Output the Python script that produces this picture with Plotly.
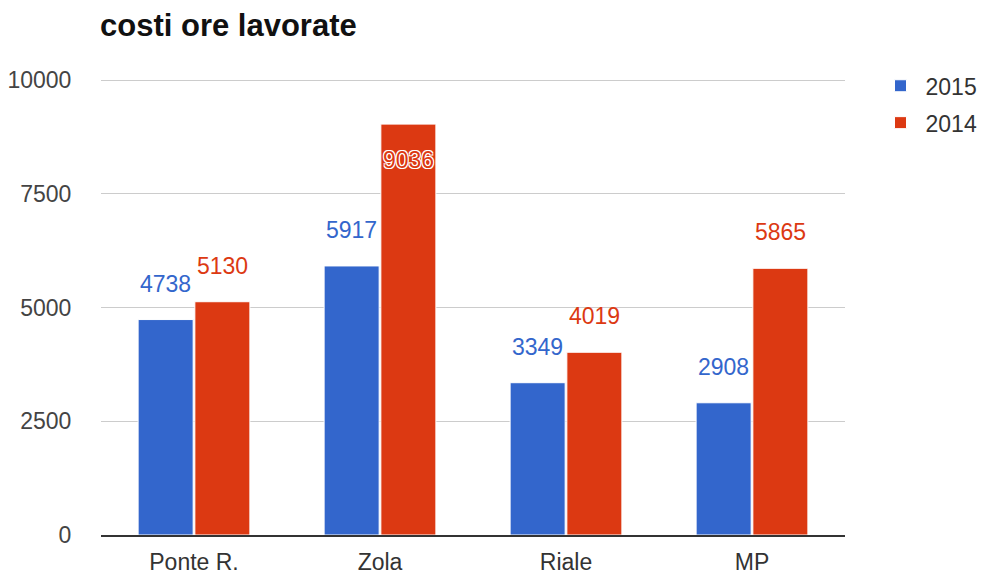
import plotly.graph_objects as go

categories = ["Ponte R.", "Zola", "Riale", "MP"]
series_names = ["2015", "2014"]
values_2015 = [4738, 5917, 3349, 2908]
values_2014 = [5130, 9036, 4019, 5865]
y_ticks = [0, 2500, 5000, 7500, 10000]

colors = {"2015": "#3366cc", "2014": "#dc3912"}
FONT = "Liberation Sans, Arial, sans-serif"
YMAX = 10000

fig = go.Figure()
for name, vals in zip(series_names, [values_2015, values_2014]):
    fig.add_trace(go.Bar(
        name=name, x=categories, y=vals, legendgroup=name,
        marker=dict(color=colors[name], line=dict(color="white", width=1)),
        offsetgroup=name,
    ))

# value labels as annotations
n = len(series_names)
for si, (name, vals) in enumerate(zip(series_names, [values_2015, values_2014])):
    for ci, v in enumerate(vals):
        inside = v > 0.85 * YMAX
        xoff = (si - (n - 1) / 2) * 0.305
        fig.add_annotation(
            x=ci + xoff, y=v, xref="x", yref="y",
            text=str(v), showarrow=False,
            yanchor="middle",
            yshift=-36 if inside else 36,
            font=dict(family=FONT, size=23, color=colors[name],
                      shadow="-1px -1px 0 white, 1px -1px 0 white, -1px 1px 0 white, 1px 1px 0 white" if inside else "none"),
        )

fig.update_layout(
    width=989, height=578,
    margin=dict(l=93, r=152, t=70, b=51, autoexpand=False),
    paper_bgcolor="white", plot_bgcolor="white",
    font=dict(family=FONT, size=23, color="#444"),
    title=dict(text="<b>costi ore lavorate</b>", x=92 / 989, xanchor="left",
               xref="container", y=1 - 17 / 578, yanchor="middle", yref="container",
               font=dict(family=FONT, size=31, color="#111")),
    bargap=0.39, bargroupgap=0.03,
    barmode="group",
    showlegend=True,
    legend=dict(x=1.041, y=1.03, xanchor="left", yanchor="top",
                font=dict(family=FONT, size=23, color="#333"),
                tracegroupgap=4, itemwidth=40),
)
fig.update_yaxes(range=[0, 10050], tickvals=y_ticks, ticktext=[str(t) for t in y_ticks],
                 showgrid=True, gridcolor="#cccccc", gridwidth=1, automargin=False,
                 zeroline=False, ticks="outside", ticklen=24, tickcolor="white",
                 tickfont=dict(family=FONT, size=23, color="#444"), fixedrange=True)
fig.update_xaxes(showline=True, linecolor="#333", linewidth=2, automargin=False,
                 ticks="outside", ticklen=5, tickcolor="white",
                 tickfont=dict(family=FONT, size=23, color="#333"))
fig.write_html("out.html")
